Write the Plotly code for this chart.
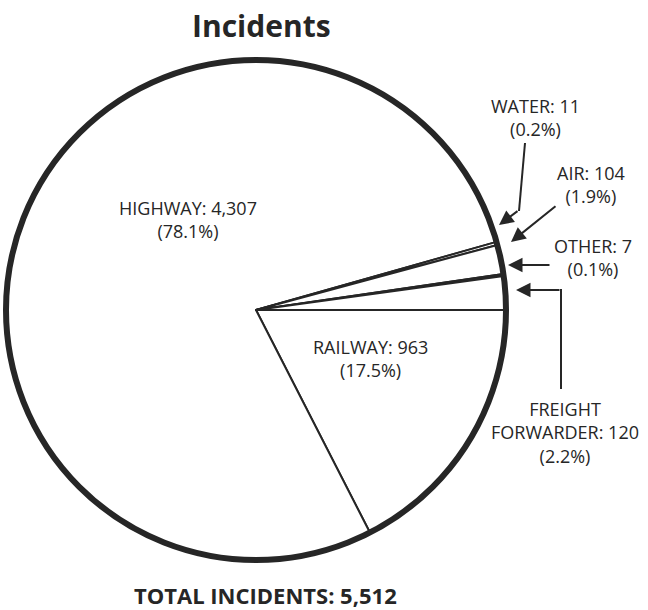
import plotly.graph_objects as go

# Hazardous-material incidents by mode of transportation,
# listed clockwise starting from 3 o'clock
modes = ["RAILWAY", "HIGHWAY", "WATER", "AIR", "OTHER", "FREIGHT FORWARDER"]
incidents = [963, 4307, 11, 104, 7, 120]
total_incidents = sum(incidents)

W, H = 648, 610
INK = "#262626"
FONT = "Open Sans"
LABEL_SIZE = 18


def px(x, y):
    """Pixel position (from top-left) -> paper coordinates."""
    return x / W, 1 - y / H


def pct(v):
    return f"({100 * v / total_incidents:.1f}%)"


def label_text(name):
    i = modes.index(name)
    shown = name.replace(" ", "<br>") if " " in name else name
    return f"{shown}: {incidents[i]:,}<br>{pct(incidents[i])}"


# pie placement: centre and radius in pixels
cx, cy, r = 256, 310, 250
dom_x = [max(0, (cx - r) / W), (cx + r) / W]
dom_y = [(H - cy - r) / H, (H - cy + r) / H]

fig = go.Figure()

# slices with thin dividing lines
fig.add_trace(go.Pie(
    labels=modes,
    values=incidents,
    sort=False,
    direction="clockwise",
    rotation=90,
    textinfo="none",
    hoverinfo="skip",
    marker=dict(colors=["white"] * len(modes), line=dict(color=INK, width=2)),
    domain=dict(x=dom_x, y=dom_y),
    showlegend=False,
))

# heavy outer rim
fig.add_trace(go.Pie(
    labels=["rim"],
    values=[1],
    sort=False,
    textinfo="none",
    hoverinfo="skip",
    marker=dict(colors=["rgba(0,0,0,0)"], line=dict(color=INK, width=6)),
    domain=dict(x=dom_x, y=dom_y),
    showlegend=False,
))

annotations = []


def add_text(text, x, y, size=LABEL_SIZE, bold=False):
    ax, ay = px(x, y)
    annotations.append(dict(
        text=f"<b>{text}</b>" if bold else text,
        x=ax, y=ay, xref="paper", yref="paper",
        xanchor="center", yanchor="middle", showarrow=False,
        font=dict(family=FONT, size=size, color=INK),
    ))


def add_arrow(tip, start):
    tx, ty = px(*tip)
    annotations.append(dict(
        text="", x=tx, y=ty, xref="paper", yref="paper",
        ax=start[0] - tip[0], ay=start[1] - tip[1],
        showarrow=True, arrowhead=2, arrowsize=1.45, arrowwidth=2,
        arrowcolor=INK, standoff=0, startstandoff=0,
    ))


# title and total
add_text("Incidents", 261, 25, size=30, bold=True)
add_text(f"TOTAL INCIDENTS: {total_incidents:,}", 265, 595, size=22, bold=True)

# labels inside the pie
add_text(label_text("HIGHWAY"), 188, 219)
add_text(label_text("RAILWAY"), 370, 358)

# labels outside the pie
add_text(label_text("WATER"), 535, 117)
add_text(label_text("AIR"), 591, 184)
add_text(label_text("OTHER"), 593, 257)
add_text(label_text("FREIGHT FORWARDER"), 565, 432)

# leader arrows
add_arrow((499, 225), (519, 210))   # water
add_arrow((511, 242), (557, 205))   # air
add_arrow((508, 265), (551, 265))   # other
add_arrow((516, 290), (561, 290))   # freight forwarder

shapes = []


def add_line(p0, p1):
    x0, y0 = px(*p0)
    x1, y1 = px(*p1)
    shapes.append(dict(type="line", xref="paper", yref="paper",
                       x0=x0, y0=y0, x1=x1, y1=y1,
                       line=dict(color=INK, width=2)))


add_line((525, 143), (519, 211))    # water leader
add_line((561, 389), (561, 289))    # freight forwarder leader

fig.update_layout(
    width=W, height=H,
    margin=dict(l=0, r=0, t=0, b=0),
    paper_bgcolor="white",
    plot_bgcolor="white",
    annotations=annotations,
    shapes=shapes,
    showlegend=False,
)

fig.write_html("out.html")
